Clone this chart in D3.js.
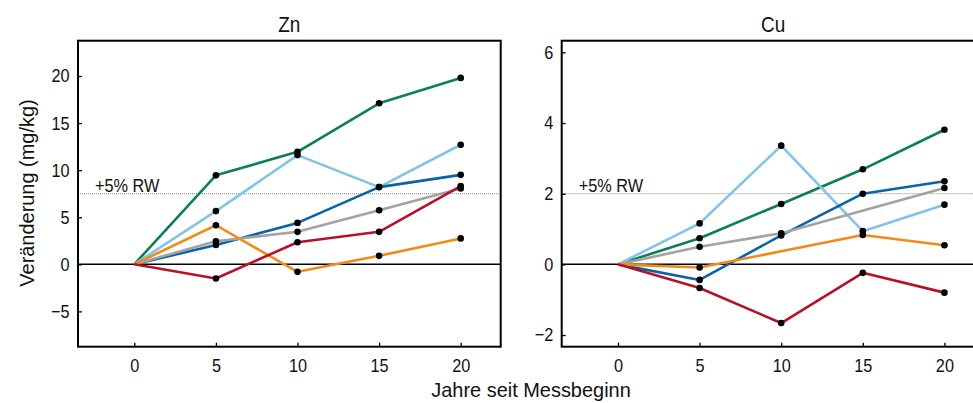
<!DOCTYPE html>
<html>
<head>
<meta charset="utf-8">
<script src="https://cdn.jsdelivr.net/npm/d3@7"></script>
<style>
  html, body { margin: 0; padding: 0; background: #fff; overflow: hidden; }
  svg text { font-family: "Liberation Sans", Arial, sans-serif; fill: #111; }
</style>
</head>
<body>
<svg id="chart" width="973" height="403"></svg>
<script>
// ---- data ----
const years = [0, 5, 10, 15, 20];
const xTicks = [0, 5, 10, 15, 20];
const seriesNames = ["green", "lightblue", "blue", "gray", "orange", "red"];
const seriesColors = ["#0b7f56", "#82c3e6", "#0a63a8", "#a3a3a3", "#f28a1a", "#b5122a"];

const znGreen     = [0, 9.45, 11.95, 17.1, 19.8];
const znLightBlue = [0, 5.65, 11.6, 8.2, 12.7];
const znBlue      = [0, 2.05, 4.4, 8.2, 9.5];
const znGray      = [0, 2.45, 3.45, 5.75, 8.05];
const znOrange    = [0, 4.15, -0.8, 0.9, 2.75];
const znRed       = [0, -1.5, 2.35, 3.45, 8.3];
const znTicks = [-5, 0, 5, 10, 15, 20];
const znThreshold = 7.5;

const cuGreen     = [0, 0.74, 1.71, 2.69, 3.81];
const cuLightBlue = [0, 1.16, 3.36, 0.94, 1.69];
const cuBlue      = [0, -0.44, 0.82, 2.0, 2.35];
const cuGray      = [0, 0.5, 0.88, null, 2.16];
const cuOrange    = [0, -0.09, null, 0.83, 0.54];
const cuRed       = [0, -0.67, -1.66, -0.24, -0.8];
const cuTicks = [-2, 0, 2, 4, 6];
const cuThreshold = 2.0;

const thresholdLabel = "+5% RW";
const yTitle = "Veränderung (mg/kg)";
const xTitle = "Jahre seit Messbeginn";

const panels = [
  { title: "Zn", series: [znGreen, znLightBlue, znBlue, znGray, znOrange, znRed],
    yDomain: [-8.75, 23.75], yTicks: znTicks, threshold: znThreshold, left: 78 },
  { title: "Cu", series: [cuGreen, cuLightBlue, cuBlue, cuGray, cuOrange, cuRed],
    yDomain: [-2.33, 6.33], yTicks: cuTicks, threshold: cuThreshold, left: 561.7 }
];

const svg = d3.select("#chart");
const plotTop = 40.7, plotBottom = 346.7, panelW = 422.7;
const xDomain = [-3.45, 22.45];
const sx = 0.88; // horizontal glyph compression (reference text looks condensed)

function condensedText(parent, x, y, size, str, anchor) {
  return parent.append("text")
    .attr("transform", `translate(${x},${y}) scale(${sx},1)`)
    .attr("text-anchor", anchor || "start")
    .attr("font-size", size).text(str);
}

panels.forEach(p => {
  const x = d3.scaleLinear().domain(xDomain).range([p.left, p.left + panelW]);
  const y = d3.scaleLinear().domain(p.yDomain).range([plotBottom, plotTop]);
  const g = svg.append("g");

  // threshold line
  g.append("line")
    .attr("x1", p.left).attr("x2", p.left + panelW)
    .attr("y1", y(p.threshold)).attr("y2", y(p.threshold))
    .attr("stroke", "#8a8a8a").attr("stroke-width", 1)
    .attr("stroke-dasharray", "1,1");
  condensedText(g, p.left + 17, y(p.threshold) - 1.5, 18.5, thresholdLabel);

  // zero line
  g.append("line")
    .attr("x1", p.left).attr("x2", p.left + panelW)
    .attr("y1", y(0)).attr("y2", y(0))
    .attr("stroke", "#000").attr("stroke-width", 1.5);

  // series lines
  const line = d3.line().x(d => x(d[0])).y(d => y(d[1]));
  p.series.forEach((vals, i) => {
    const pts = years.map((yr, j) => [yr, vals[j]]).filter(d => d[1] !== null);
    g.append("path").datum(pts)
      .attr("d", line)
      .attr("fill", "none")
      .attr("stroke", seriesColors[i])
      .attr("stroke-width", 2.6)
      .attr("stroke-linejoin", "round");
  });
  // points (not at year 0)
  p.series.forEach((vals, i) => {
    const pts = years.map((yr, j) => [yr, vals[j]]).filter(d => d[1] !== null && d[0] !== 0);
    g.selectAll(null).data(pts).enter().append("circle")
      .attr("cx", d => x(d[0])).attr("cy", d => y(d[1]))
      .attr("r", 3.3).attr("fill", "#000");
  });

  // axes
  const yAxis = d3.axisLeft(y).tickValues(p.yTicks).tickSizeInner(-4).tickSizeOuter(0).tickPadding(9)
    .tickFormat(d => d < 0 ? "\u2212" + Math.abs(d) : d);
  const ya = g.append("g").attr("transform", `translate(${p.left},0)`).call(yAxis);
  const xAxis = d3.axisBottom(x).tickValues(xTicks).tickSizeInner(-4).tickSizeOuter(0).tickPadding(12);
  const xa = g.append("g").attr("transform", `translate(0,${plotBottom})`).call(xAxis);
  [ya, xa].forEach(a => {
    a.select(".domain").remove();
    a.selectAll("line").attr("stroke", "#000").attr("stroke-width", 1.3);
    a.selectAll("text").attr("font-size", 18.5)
      .attr("font-family", "Liberation Sans, Arial, sans-serif").attr("fill", "#111");
  });
  ya.selectAll("text").attr("x", -8.5 / sx).attr("transform", `scale(${sx},1)`);
  xa.selectAll("text").attr("transform", `scale(${sx},1)`);

  // frame
  g.append("rect")
    .attr("x", p.left).attr("y", plotTop).attr("width", panelW).attr("height", plotBottom - plotTop)
    .attr("fill", "none").attr("stroke", "#000").attr("stroke-width", 2);

  // title
  condensedText(g, p.left + panelW / 2, 31.5, 21.5, p.title, "middle");
});

svg.append("text")
  .attr("transform", "translate(531,397) scale(0.95,1)").attr("text-anchor", "middle")
  .attr("font-size", 21).text(xTitle);

svg.append("text")
  .attr("transform", "translate(34,193) rotate(-90) scale(0.95,1)")
  .attr("text-anchor", "middle").attr("font-size", 21).text(yTitle);
</script>
</body>
</html>
